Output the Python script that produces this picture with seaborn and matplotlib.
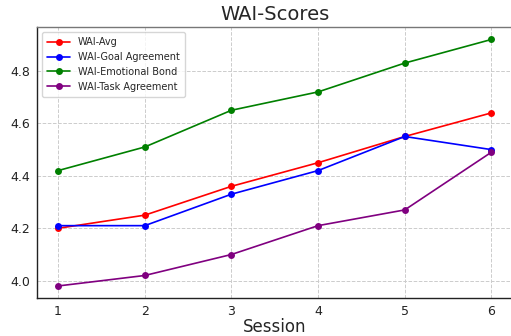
import pandas as pd
import numpy as np
import matplotlib
matplotlib.use('Agg')
import matplotlib.pyplot as plt
import seaborn as sns

# Session numbers and WAI scores
sessions = [1, 2, 3, 4, 5, 6]
wai_avg = [4.20, 4.25, 4.36, 4.45, 4.55, 4.64]
wai_goal = [4.21, 4.21, 4.33, 4.42, 4.55, 4.50]
wai_bond = [4.42, 4.51, 4.65, 4.72, 4.83, 4.92]
wai_task = [3.98, 4.02, 4.10, 4.21, 4.27, 4.49]

series_names = ['WAI-Avg', 'WAI-Goal Agreement', 'WAI-Emotional Bond', 'WAI-Task Agreement']
series_colors = ['red', 'blue', 'green', 'purple']

# Long format for seaborn
frames = []
for name, vals in zip(series_names, [wai_avg, wai_goal, wai_bond, wai_task]):
    frames.append(pd.DataFrame({'Session': sessions, 'Score': vals, 'Measure': name}))
df = pd.concat(frames, ignore_index=True)

sns.set_style('white')
plt.rcParams['font.family'] = ['DejaVu Sans']

fig, ax = plt.subplots(figsize=(5.11, 3.36), dpi=100)
fig.subplots_adjust(left=0.072, right=1.004, bottom=0.113, top=0.92)

sns.lineplot(data=df, x='Session', y='Score', hue='Measure', hue_order=series_names,
             palette=dict(zip(series_names, series_colors)), marker='o',
             markersize=5, markeredgewidth=0, linewidth=1.2, ax=ax)

ax.set_title('WAI-Scores', fontsize=14, pad=5)
ax.set_xlabel('Session', fontsize=12, labelpad=0)
ax.set_ylabel('')
ax.set_xticks(sessions)
ax.set_yticks([4.0, 4.2, 4.4, 4.6, 4.8])
ax.tick_params(axis='both', labelsize=9, length=3, width=0.8, pad=2, colors='#222222')
ax.set_xlim(0.754, 6.25)
ax.set_ylim(3.934, 4.968)
ax.grid(True, linestyle='--', color='#cccccc', linewidth=0.7)
for side in ['left', 'bottom']:
    ax.spines[side].set_color('#222222')
    ax.spines[side].set_linewidth(1.0)
for side in ['top', 'right']:
    ax.spines[side].set_color('#777777')
    ax.spines[side].set_linewidth(1.0)

leg = ax.legend(loc='upper left', fontsize=7, frameon=True, handlelength=2.4,
                borderpad=0.55, labelspacing=0.5)
leg.get_frame().set_edgecolor('#cccccc')

plt.savefig('out.png', dpi=100)
